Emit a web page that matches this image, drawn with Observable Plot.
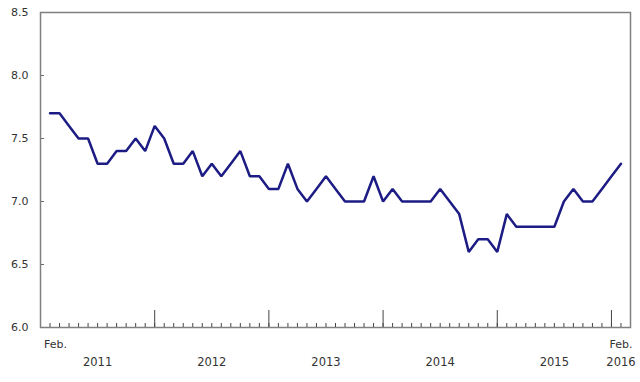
<!DOCTYPE html>
<html><head><meta charset="utf-8">
<script src="https://cdn.jsdelivr.net/npm/d3@7"></script>
<script src="https://cdn.jsdelivr.net/npm/@observablehq/plot@0.6"></script>
<style>body{margin:0;background:#fff}</style>
</head><body><div id="chart"></div>
<script>
// Monthly categories, Feb. 2011 to Feb. 2016
const months = d3.utcMonths(new Date(Date.UTC(2011, 1, 1)), new Date(Date.UTC(2016, 2, 1))).map(d3.utcFormat("%Y-%m"));
// Series values
const values = [
  7.7, 7.7, 7.6, 7.5, 7.5, 7.3, 7.3, 7.4, 7.4, 7.5, 7.4,
  7.6, 7.5, 7.3, 7.3, 7.4, 7.2, 7.3, 7.2, 7.3, 7.4, 7.2, 7.2,
  7.1, 7.1, 7.3, 7.1, 7.0, 7.1, 7.2, 7.1, 7.0, 7.0, 7.0, 7.2,
  7.0, 7.1, 7.0, 7.0, 7.0, 7.0, 7.1, 7.0, 6.9, 6.6, 6.7, 6.7,
  6.6, 6.9, 6.8, 6.8, 6.8, 6.8, 6.8, 7.0, 7.1, 7.0, 7.0, 7.1,
  7.2, 7.3
];
const yTicks = [6.0, 6.5, 7.0, 7.5, 8.0, 8.5];
const majorTickMonths = ["2012-01", "2013-01", "2014-01", "2015-01", "2016-01"];
const yearLabels = ["2011", "2012", "2013", "2014", "2015", "2016"];
const yearLabelMonths = ["2011-07", "2012-07", "2013-07", "2014-07", "2015-07", "2016-02"];
const firstMonthLabel = "Feb.";
const lastMonthLabel = "Feb.";

const idx = m => months.indexOf(m);
const series = values.map((v, i) => ({i, v}));
const years = yearLabels.map((label, k) => ({label, i: idx(yearLabelMonths[k])}));

const chart = Plot.plot({
  width: 640,
  height: 382,
  marginLeft: 40,
  marginRight: 10,
  marginTop: 12,
  marginBottom: 55,
  style: {fontFamily: "'DejaVu Sans', Verdana, sans-serif", fontSize: "11px", color: "#333", background: "#fff"},
  x: {type: "linear", domain: [-1, months.length]},
  y: {domain: [6, 8.5]},
  marks: [
    Plot.axisY(yTicks, {tickSize: -4, tickPadding: 16, tickFormat: d3.format(".1f"), stroke: "#666", fill: "#333", label: null, fontSize: 11}),
    Plot.axisX(months.map((m, i) => i), {tickSize: -4, tickFormat: () => "", stroke: "#444", label: null}),
    Plot.axisX(majorTickMonths.map(idx), {tickSize: -17, tickFormat: () => "", stroke: "#444", label: null}),
    Plot.frame({stroke: "#808080", strokeWidth: 1.5}),
    Plot.line(series, {x: "i", y: "v", stroke: "#1c1c84", strokeWidth: 2.5, strokeLinejoin: "miter"}),
    Plot.text([firstMonthLabel], {x: () => idx("2011-02"), frameAnchor: "bottom", dy: 20.5, dx: -6, textAnchor: "start", fill: "#333", fontSize: 11}),
    Plot.text([lastMonthLabel], {x: () => idx("2016-02"), frameAnchor: "bottom", dy: 20.5, fill: "#333", fontSize: 11}),
    Plot.text(years, {x: "i", text: "label", frameAnchor: "bottom", dy: 38.5, fill: "#333", fontSize: 11.5})
  ]
});
document.getElementById("chart").append(chart);
</script>
</body></html>
